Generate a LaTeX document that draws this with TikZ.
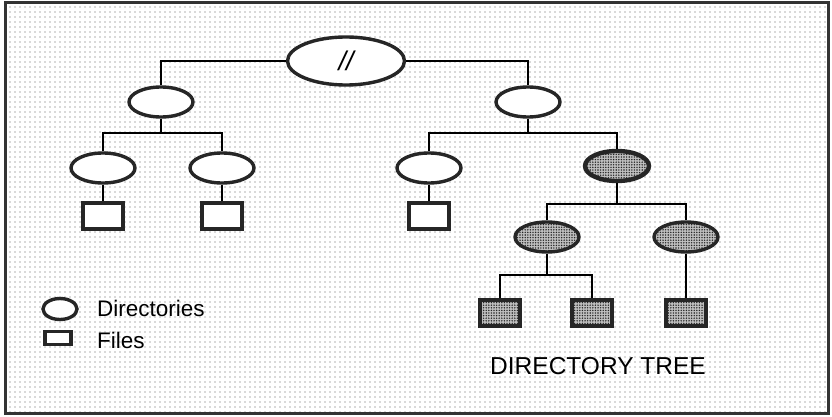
\documentclass[tikz,border=0pt]{standalone}
\usepackage{fontspec}
\setmainfont{Liberation Sans}
\usetikzlibrary{shapes.geometric,patterns.meta}
\begin{document}
\begin{tikzpicture}[x=1pt, y=-1pt,
    dir/.style={ellipse, draw=black!85, line width=3.4pt, fill=white,
                minimum width=64pt, minimum height=30pt, inner sep=0pt},
    file/.style={rectangle, draw=black!85, line width=3.2pt, fill=white,
                 minimum width=40pt, minimum height=26pt, inner sep=0pt},
    marked/.style={preaction={fill=black!25},
                   pattern={Dots[radius=0.8pt, distance=2.6pt]}, pattern color=black!85},
    link/.style={line width=1.8pt, black},
    lbl/.style={font=\fontsize{22.5}{24}\selectfont, inner sep=0pt, anchor=west}
]
\useasboundingbox (0,0) rectangle (832,417);
% dotted sheet
\path[pattern={Dots[radius=0.7pt, distance=5pt]}, pattern color=black!65] (5,3) rectangle (828,413);
\draw[line width=3pt, black!80] (5,3) rectangle (828,413);

% directories
\node[dir, minimum width=117pt, minimum height=48pt, font=\fontsize{27}{28}\selectfont\itshape] (root) at (346,61) {//};
\node[dir] (l1) at (161,102) {};
\node[dir] (r1) at (528,102) {};
\node[dir] (l2a) at (103,168) {};
\node[dir] (l2b) at (222,168) {};
\node[dir] (r2a) at (429,168) {};
\node[dir, marked, line width=4.4pt, minimum width=64pt, minimum height=30pt] (r2b) at (617,166) {};
\node[dir, marked] (r3a) at (547,237) {};
\node[dir, marked] (r3b) at (686,237) {};

% files
\node[file] (fl2a) at (103,216) {};
\node[file] (fl2b) at (222,216) {};
\node[file] (fr2a) at (429,216) {};
\node[file, marked] (fr3a1) at (500,313) {};
\node[file, marked] (fr3a2) at (592,313) {};
\node[file, marked] (fr3b) at (686,313) {};

% tree lines
\draw[link] (l1) |- (root) -| (r1);
\draw[link] (l1) -- ++(0,31) coordinate (lbus);
\draw[link] (l2a) |- (lbus) -| (l2b);
\draw[link] (r1) -- ++(0,31) coordinate (rbus);
\draw[link] (r2a) |- (rbus) -| (r2b);
\draw[link] (r2b) -- ++(0,38) coordinate (mbus);
\draw[link] (r3a) |- (mbus) -| (r3b);
\draw[link] (r3a) -- ++(0,38) coordinate (sbus);
\draw[link] (fr3a1) |- (sbus) -| (fr3a2);
\draw[link] (l2a) -- (fl2a);
\draw[link] (l2b) -- (fl2b);
\draw[link] (r2a) -- (fr2a);
\draw[link] (r3b) -- (fr3b);

% legend
\node[dir, minimum width=34pt, minimum height=21pt] (keydir) at (60,309) {};
\node[file, minimum width=26pt, minimum height=13pt] (keyfile) at (58,338) {};
\node[lbl] (keydirtxt) at (97,308) {Directories};
\node[lbl] (keyfiletxt) at (97,340) {Files};

\node[font=\fontsize{24.5}{26}\selectfont, inner sep=0pt] (title) at (598,366) {DIRECTORY TREE};
\end{tikzpicture}
\end{document}
